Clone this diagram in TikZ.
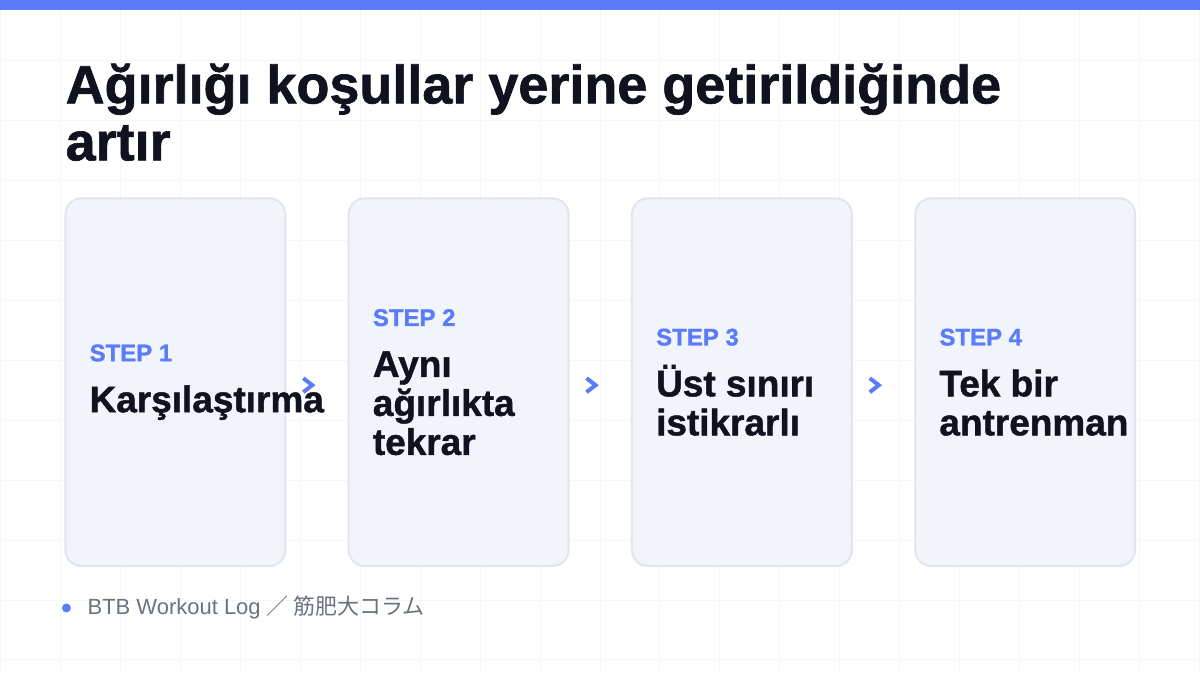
\documentclass[tikz,border=0pt]{standalone}
\usepackage{fontspec}
\setmainfont{Liberation Sans}[BoldFeatures={FakeBold=1.2}]
\newfontfamily\cjkfont{Noto Sans CJK JP}
\usetikzlibrary{positioning,calc}

\definecolor{accent}{HTML}{5B7CF8}
\definecolor{ink}{HTML}{10131F}
\definecolor{cardfill}{HTML}{F2F4FB}
\definecolor{cardline}{HTML}{E1E5F0}
\definecolor{gridline}{HTML}{F5F6F8}
\definecolor{muted}{HTML}{6B7280}

\newcommand{\stepfont}{\fontsize{24}{24}\selectfont\color{accent}}
\newcommand{\stepcard}[4]{% #1: name, #2: center x, #3: step number, #4: body text
	\node[card] (card#1) at (#2,382) {};
	\node[cardtext] (text#1) at ([xshift=25pt]card#1.west) {{\stepfont STEP #3}\\[12pt]#4};
}

\tikzset{
	card/.style={draw=cardline, line width=2pt, fill=cardfill, rounded corners=16pt,
		minimum width=220pt, minimum height=368pt, inner sep=0pt},
	cardtext/.style={anchor=west, align=left, inner sep=0pt, text=ink,
		font=\fontsize{37}{39}\selectfont\bfseries},
	headline/.style={anchor=base west, inner sep=0pt, text=ink,
		font=\fontsize{54}{57}\selectfont\bfseries},
	chevline/.style={accent, line width=4pt, line join=miter},
}

\begin{document}
\begin{tikzpicture}[x=1pt,y=-1pt]
	% Draw the background and grid
	\fill[white] (0,0) rectangle (1200,675);
	\draw[gridline, line width=1pt, step=60pt] (0,675) grid (1200,0);
	\fill[accent] (0,0) rectangle (1200,10);
	\useasboundingbox (0,0) rectangle (1200,675);

	% Title
	\node[headline] (title1) at (65,103) {Ağırlığı koşullar yerine getirildiğinde};
	\node[headline] (title2) at (65,160) {artır};

	% Making cards
	\stepcard{1}{175}{1}{Karşılaştırma}
	\stepcard{2}{458.5}{2}{Aynı\\ağırlıkta\\tekrar}
	\stepcard{3}{742}{3}{Üst sınırı\\istikrarlı}
	\stepcard{4}{1025.5}{4}{Tek bir\\antrenman}

	% Making chevrons
	\foreach \i in {1,2,3} {
		\coordinate (chev\i) at ($(card\i.east)+(22,3)$);
		\draw[chevline] (chev\i) ++(-5,-7) -- ++(9,7) -- ++(-9,7);
	}

	% Footer
	\node[circle, fill=accent, inner sep=0pt, minimum size=9pt] (dot) at (66,608) {};
	\node[anchor=base west, inner sep=0pt, text=muted, font=\fontsize{22}{22}\selectfont]
		(footer) at (87,615) {BTB Workout Log {\cjkfont ／ 筋肥大コラム}};
\end{tikzpicture}
\end{document}
